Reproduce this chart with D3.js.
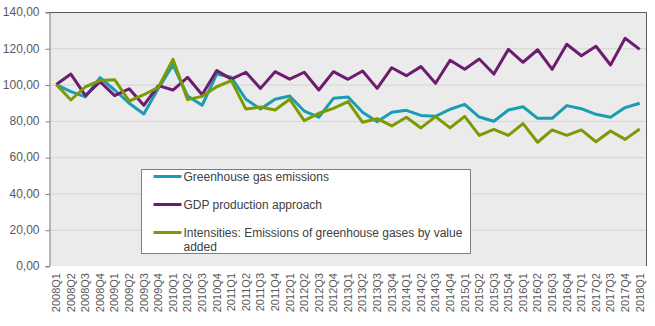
<!DOCTYPE html>
<html>
<head>
<meta charset="utf-8">
<script src="https://cdn.jsdelivr.net/npm/d3@7"></script>
<style>
  body { margin: 0; background: #fff; }
  svg text { font-family: "Liberation Sans", Arial, sans-serif; }
</style>
</head>
<body>
<div id="chart"></div>
<script>

// quarters 2008Q1 .. 2018Q1
const quarters = [];
for (let y = 2008; y <= 2018; y++) {
    for (let q = 1; q <= 4; q++) {
        if (y === 2018 && q > 1) break;
        quarters.push(y + 'Q' + q);
    }
}

const ghgEmissions = [
    100, 96.1, 93.2, 103.8, 97, 89.7, 83.8, 97.9, 110.8, 93.7,
    88.6, 105.8, 104, 91.9, 86.5, 91.9, 93.7, 85.4, 82, 92.4,
    93.2, 84.7, 79.5, 84.7, 85.8, 83, 82.5, 86.4, 89.1, 82.1,
    79.8, 86, 87.8, 81.4, 81.4, 88.4, 86.7, 83.6, 82, 87.3,
    89.7
];

const gdpProduction = [
    100, 105.8, 93.9, 101.6, 93.9, 97.7, 88.6, 99.4, 97, 104,
    94.4, 107.7, 103, 106.8, 97.9, 107.1, 103, 106.8, 97, 107.1,
    102.9, 107.5, 97.9, 109.3, 104.9, 109.9, 100.7, 113.4, 108.4, 114.1,
    105.8, 119.4, 112.3, 119.2, 108.4, 122.2, 115.9, 121.1, 110.8, 125.5,
    119.4
];

const intensities = [
    100, 91.5, 98.8, 102.2, 102.7, 90.9, 94.4, 98.5, 113.9, 91.7,
    93.5, 98.8, 102.2, 86.5, 87.6, 86, 91.9, 80.1, 84.2, 86.9,
    90.6, 79.2, 81.2, 77.2, 82, 76.1, 82.3, 76.1, 82.5, 72,
    75.3, 72, 78.5, 68.2, 75, 72, 75, 68.5, 74.4, 69.8,
    75.5
];

const yTicks = [0, 20, 40, 60, 80, 100, 120, 140];

const seriesNames = [
    'Greenhouse gas emissions',
    'GDP production approach',
    'Intensities: Emissions of greenhouse gases by value added'
];

const series = [
    { name: seriesNames[0], values: ghgEmissions, color: '#1a9db3' },
    { name: seriesNames[1], values: gdpProduction, color: '#6c1d70' },
    { name: seriesNames[2], values: intensities, color: '#7b9a03' }
];

const width = 655;
const height = 326;
const margin = { top: 12, right: 8, bottom: 60, left: 49 };

const svg = d3.select('#chart')
    .append('svg')
    .attr('width', width)
    .attr('height', height);

const innerW = width - margin.left - margin.right;
const innerH = height - margin.top - margin.bottom;

const ctr = svg.append('g')
    .attr('transform', `translate(${margin.left},${margin.top})`);

const xScale = d3.scaleBand()
    .domain(quarters)
    .range([0, innerW]);

const yScale = d3.scaleLinear()
    .domain([0, 140])
    .range([innerH, 0]);

const xPos = (d, i) => xScale(quarters[i]) + xScale.bandwidth() / 2;

// plot area
ctr.append('rect')
    .attr('width', innerW)
    .attr('height', innerH)
    .attr('fill', '#ebebeb');

// gridlines
ctr.append('g')
    .selectAll('line')
    .data(yTicks.filter(t => t > 0 && t < 140))
    .join('line')
    .attr('x1', 0)
    .attr('x2', innerW)
    .attr('y1', d => yScale(d) + 0.5)
    .attr('y2', d => yScale(d) + 0.5)
    .attr('stroke', '#d4d4d4')
    .attr('stroke-width', 1);

// top and right border
ctr.append('path')
    .attr('d', `M0,0.5H${innerW - 0.5}V${innerH}`)
    .attr('fill', 'none')
    .attr('stroke', '#595959')
    .attr('stroke-width', 1);

// y axis
const yAxis = d3.axisLeft(yScale)
    .tickValues(yTicks)
    .tickSize(4)
    .tickPadding(6)
    .tickFormat(d => d3.format('.2f')(d).replace('.', ','));

const yAxisG = ctr.append('g')
    .attr('transform', 'translate(0.5,0)')
    .call(yAxis);
yAxisG.select('.domain').attr('stroke', '#7f7f7f');
yAxisG.selectAll('.tick line').attr('stroke', '#7f7f7f').attr('transform', 'translate(0,0.5)');
yAxisG.selectAll('.tick text')
    .attr('fill', '#595959')
    .style('font-size', '12px');

// x axis labels, rotated
const xAxis = d3.axisBottom(xScale)
    .tickSize(0)
    .tickPadding(0);

const xAxisG = ctr.append('g')
    .attr('transform', `translate(0,${innerH})`)
    .call(xAxis);
xAxisG.select('.domain').remove();
xAxisG.selectAll('.tick text')
    .attr('transform', 'rotate(-90)')
    .attr('x', -7)
    .attr('y', 0)
    .attr('dy', '0.35em')
    .attr('text-anchor', 'end')
    .attr('fill', '#595959')
    .style('font-size', '11px');

// series lines
const line = d3.line()
    .x(xPos)
    .y(d => yScale(d));

ctr.append('g')
    .selectAll('path')
    .data(series)
    .join('path')
    .attr('d', d => line(d.values))
    .attr('fill', 'none')
    .attr('stroke', d => d.color)
    .attr('stroke-width', 3)
    .attr('stroke-linejoin', 'round');

// legend
const legend = svg.append('g')
    .attr('transform', 'translate(141.5,169.5)');

legend.append('rect')
    .attr('width', 329)
    .attr('height', 84)
    .attr('fill', '#fff')
    .attr('stroke', '#7f7f7f');

const rows = [
    { s: series[0], y: 7, lines: [seriesNames[0]] },
    { s: series[1], y: 35, lines: [seriesNames[1]] },
    { s: series[2], y: 63, lines: ['Intensities: Emissions of greenhouse gases by value', 'added'] }
];

const item = legend.selectAll('g.item')
    .data(rows)
    .join('g')
    .attr('class', 'item')
    .attr('transform', d => `translate(0,${d.y})`);

item.append('line')
    .attr('x1', 12)
    .attr('x2', 40)
    .attr('y1', 0)
    .attr('y2', 0)
    .attr('stroke', d => d.s.color)
    .attr('stroke-width', 3);

item.append('text')
    .attr('x', 42)
    .attr('y', 0)
    .attr('fill', '#404040')
    .style('font-size', '12px')
    .selectAll('tspan')
    .data(d => d.lines)
    .join('tspan')
    .attr('x', 42)
    .attr('dy', (d, i) => i === 0 ? '0.35em' : '14')
    .text(d => d);

</script>
</body>
</html>
